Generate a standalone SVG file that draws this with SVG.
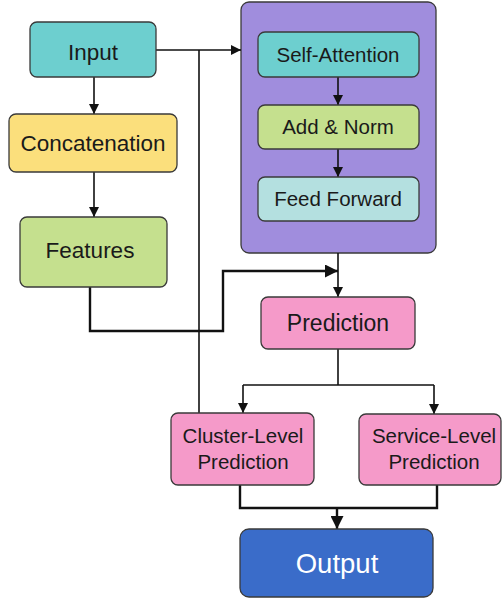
<svg xmlns="http://www.w3.org/2000/svg" width="503" height="601" viewBox="0 0 503 601">
<style>
.box{stroke:#3a3a3a;stroke-width:1.3}
.t{font-family:"Liberation Sans",Arial,sans-serif;fill:#1a1a1a;text-anchor:middle}
.c{fill:none;stroke:#111;stroke-width:1.6}
.ct{fill:none;stroke:#111;stroke-width:2.4}
</style>
<defs>
<marker id="ah" viewBox="0 0 10 10" refX="10" refY="5" markerWidth="10" markerHeight="10" markerUnits="userSpaceOnUse" orient="auto">
<path d="M0,0 L10,5 L0,10 Z" fill="#111"/>
</marker>
<marker id="ahb" viewBox="0 0 10 10" refX="10" refY="5" markerWidth="13" markerHeight="13" markerUnits="userSpaceOnUse" orient="auto">
<path d="M0,0 L10,5 L0,10 Z" fill="#111"/>
</marker>
</defs>
<rect width="503" height="601" fill="#fff"/>
<g id="transformer">
<rect class="box" x="241" y="2" width="195" height="251" rx="8" fill="#a08ddd"/>
</g>
<g id="connectors">
<path class="c" d="M94,77 V114" marker-end="url(#ah)"/>
<path class="c" d="M94,172 V217" marker-end="url(#ah)"/>
<path class="c" d="M156,50 H241" marker-end="url(#ah)"/>
<path class="c" d="M199,50 V413"/>
<path class="c" d="M338,77 V105" marker-end="url(#ah)"/>
<path class="c" d="M338,149 V177" marker-end="url(#ah)"/>
<path class="c" d="M338,253 V297" marker-end="url(#ah)"/>
<path class="ct" d="M90,287 V331 H223 V271 H338" marker-end="url(#ahb)"/>
<path class="c" d="M338,349 V385"/>
<path class="c" d="M243,385 H434"/>
<path class="c" d="M243,385 V413" marker-end="url(#ah)"/>
<path class="c" d="M434,385 V414" marker-end="url(#ah)"/>
<path class="ct" d="M240,485 V508 H437 V485"/>
<path class="ct" d="M337,508 V529" marker-end="url(#ahb)"/>
</g>
<g id="input">
<rect class="box" x="30" y="22" width="126" height="55" rx="7" fill="#6dcfcf"/>
<text class="t" x="93" y="60" font-size="22.5">Input</text>
</g>
<g id="concatenation">
<rect class="box" x="9" y="114" width="168" height="58" rx="7" fill="#fbdf7c"/>
<text class="t" x="93" y="151" font-size="22.5">Concatenation</text>
</g>
<g id="features">
<rect class="box" x="20" y="217" width="147" height="70" rx="7" fill="#c5e08e"/>
<text class="t" x="90" y="258" font-size="22.5">Features</text>
</g>
<g id="self-attention">
<rect class="box" x="258" y="32" width="161" height="45" rx="7" fill="#6dcfcf"/>
<text class="t" x="338" y="62" font-size="20.5">Self-Attention</text>
</g>
<g id="add-norm">
<rect class="box" x="258" y="105" width="161" height="44" rx="7" fill="#c5e08e"/>
<text class="t" x="338" y="134" font-size="20.5">Add &amp; Norm</text>
</g>
<g id="feed-forward">
<rect class="box" x="258" y="177" width="161" height="44" rx="7" fill="#b4e0e0"/>
<text class="t" x="338" y="206" font-size="20.5">Feed Forward</text>
</g>
<g id="prediction">
<rect class="box" x="261" y="297" width="154" height="52" rx="7" fill="#f59ac9"/>
<text class="t" x="338" y="331" font-size="23">Prediction</text>
</g>
<g id="cluster-level">
<rect class="box" x="171" y="413" width="143" height="72" rx="7" fill="#f59ac9"/>
<text class="t" x="243" y="443" font-size="20.5">Cluster-Level</text>
<text class="t" x="243" y="469" font-size="20.5">Prediction</text>
</g>
<g id="service-level">
<rect class="box" x="359" y="414" width="142" height="71" rx="7" fill="#f59ac9"/>
<text class="t" x="434" y="443" font-size="20.5">Service-Level</text>
<text class="t" x="434" y="469" font-size="20.5">Prediction</text>
</g>
<g id="output">
<rect class="box" x="240" y="529" width="193" height="68" rx="9" fill="#3a6cc9" stroke="#2a4f99"/>
<text class="t" x="337" y="573" font-size="27.5" style="fill:#fff">Output</text>
</g>
</svg>
